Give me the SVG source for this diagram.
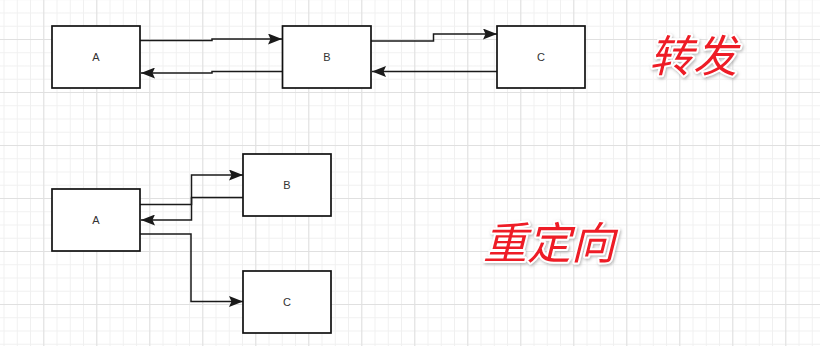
<svg xmlns="http://www.w3.org/2000/svg" width="820" height="346" viewBox="0 0 820 346">
<defs>
<pattern id="minor" width="13.25" height="13.25" patternUnits="userSpaceOnUse" x="43.3" y="39">
<rect x="0" y="0" width="1" height="13.25" fill="#f0f0f0"/>
<rect x="0" y="0" width="13.25" height="1" fill="#f0f0f0"/>
</pattern>
<pattern id="major" width="53" height="53" patternUnits="userSpaceOnUse" x="43.3" y="39">
<rect x="0" y="0" width="1" height="53" fill="#e0e0e0"/>
<rect x="0" y="0" width="53" height="1" fill="#e0e0e0"/>
</pattern>
<marker id="arr" markerUnits="userSpaceOnUse" markerWidth="14" markerHeight="11" refX="14" refY="5.5" orient="auto" viewBox="0 0 14 11">
<path d="M0,0 L14,5.5 L0,11 L2.5,5.5 Z" fill="#1a1a1a"/>
</marker>
<filter id="glow" x="-10%" y="-20%" width="120%" height="140%">
<feDropShadow dx="1" dy="1.5" stdDeviation="1.5" flood-color="#888" flood-opacity="0.6"/>
</filter>
</defs>
<style>
.box{fill:#fff;stroke:#111;stroke-width:1.7}
.lbl{font-family:"Liberation Sans",Arial,sans-serif;font-size:11px;fill:#333;text-anchor:middle;dominant-baseline:central}
.edge{fill:none;stroke:#1a1a1a;stroke-width:1.5;marker-end:url(#arr)}
.big{font-family:"Noto Sans CJK SC",sans-serif;font-size:44px;font-style:italic;fill:#ee1c25;stroke:#fff;stroke-width:4;stroke-linejoin:round;paint-order:stroke;text-anchor:middle;filter:url(#glow)}
</style>
<rect width="820" height="346" fill="#fff"/>
<rect width="820" height="346" fill="url(#minor)"/>
<rect width="820" height="346" fill="url(#major)"/>

<g id="connectors">
<path class="edge" d="M140,40.5 H212 V39 H282"/>
<path class="edge" d="M282,71.5 H212 V73 H141"/>
<path class="edge" d="M371,41 H433.5 V34 H497"/>
<path class="edge" d="M497,71.5 H372"/>
<path class="edge" d="M140,204.5 H191.5 V175 H243"/>
<path class="edge" d="M243,197.5 H191.5 V220 H141"/>
<path class="edge" d="M140,234 H191 V301.5 H243"/>
</g>

<g id="top-A"><rect class="box" x="52" y="26" width="88" height="62"/><text class="lbl" x="96" y="57">A</text></g>
<g id="top-B"><rect class="box" x="282.5" y="26" width="88.5" height="62"/><text class="lbl" x="327" y="57">B</text></g>
<g id="top-C"><rect class="box" x="497" y="26" width="88" height="62"/><text class="lbl" x="541" y="57">C</text></g>
<g id="bot-A"><rect class="box" x="52" y="189" width="88" height="62"/><text class="lbl" x="96" y="220">A</text></g>
<g id="bot-B"><rect class="box" x="243" y="154" width="88" height="62"/><text class="lbl" x="287" y="185">B</text></g>
<g id="bot-C"><rect class="box" x="243" y="271" width="88" height="62"/><text class="lbl" x="287" y="302">C</text></g>

<g id="title-forward"><text class="big" x="693" y="72">转发</text></g>
<g id="title-redirect"><text class="big" x="549" y="259">重定向</text></g>
</svg>
